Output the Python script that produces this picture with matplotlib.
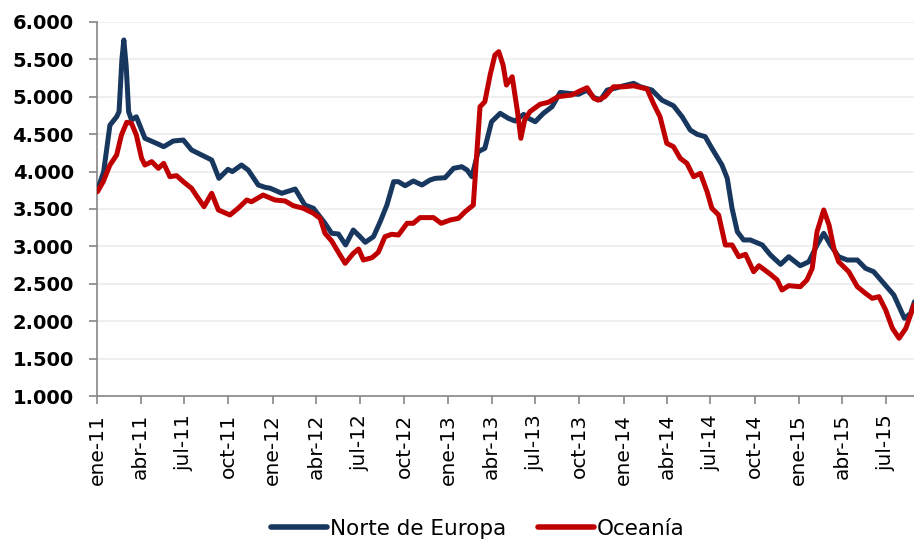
import matplotlib
matplotlib.use("Agg")
import matplotlib.pyplot as plt
import matplotlib.dates as mdates
import pandas as pd

# ---------------- data ----------------
norte_dates = [
    "2011-01-01", "2011-01-14", "2011-01-27", "2011-02-10", "2011-02-15", "2011-02-21",
    "2011-02-25", "2011-03-02", "2011-03-07", "2011-03-13", "2011-03-23", "2011-04-10",
    "2011-05-04", "2011-05-19", "2011-06-08", "2011-06-29", "2011-07-16", "2011-08-06",
    "2011-08-27", "2011-09-11", "2011-09-30", "2011-10-09", "2011-10-28", "2011-11-11",
    "2011-12-02", "2011-12-16", "2011-12-27", "2012-01-20", "2012-02-17", "2012-03-08",
    "2012-03-26", "2012-04-19", "2012-05-03", "2012-05-17", "2012-06-01", "2012-06-17",
    "2012-07-01", "2012-07-12", "2012-07-29", "2012-08-12", "2012-08-26", "2012-09-09",
    "2012-09-19", "2012-10-03", "2012-10-20", "2012-11-07", "2012-11-24", "2012-12-05",
    "2012-12-25", "2013-01-12", "2013-01-29", "2013-02-09", "2013-02-19", "2013-03-04",
    "2013-03-18", "2013-04-01", "2013-04-19", "2013-05-06", "2013-05-20", "2013-06-07",
    "2013-06-17", "2013-07-01", "2013-07-18", "2013-08-05", "2013-08-22", "2013-09-08",
    "2013-09-29", "2013-10-17", "2013-10-31", "2013-11-14", "2013-11-28", "2013-12-18",
    "2014-01-01", "2014-01-22", "2014-02-05", "2014-03-01", "2014-03-22", "2014-04-15",
    "2014-05-03", "2014-05-20", "2014-06-03", "2014-06-20", "2014-07-04", "2014-07-25",
    "2014-08-05", "2014-08-15", "2014-08-26", "2014-09-08", "2014-09-22", "2014-10-17",
    "2014-11-03", "2014-11-24", "2014-12-11", "2015-01-04", "2015-01-22", "2015-02-08",
    "2015-02-22", "2015-03-08", "2015-03-25", "2015-04-12", "2015-05-03", "2015-05-20",
    "2015-06-06", "2015-06-27", "2015-07-18", "2015-08-09", "2015-08-22", "2015-08-30",
]
norte_values = [
    3750, 4000, 4620, 4733, 4800, 5500,
    5760, 5400, 4800, 4690, 4733, 4445,
    4378, 4333, 4409, 4422, 4289, 4222,
    4155, 3910, 4030, 4000, 4088, 4021,
    3821, 3790, 3777, 3710, 3767, 3553,
    3509, 3309, 3175, 3166, 3019, 3219,
    3130, 3055, 3130, 3330, 3553, 3865,
    3865, 3811, 3874, 3821, 3888, 3910,
    3918, 4044, 4065, 4021, 3932, 4266,
    4311, 4667, 4779, 4712, 4676, 4765,
    4712, 4667, 4779, 4867, 5059, 5046,
    5033, 5090, 4990, 4960, 5090, 5121,
    5147, 5180, 5134, 5090, 4955, 4880,
    4733, 4555, 4499, 4467, 4311, 4088,
    3910, 3509, 3196, 3086, 3086, 3019,
    2885, 2760, 2862, 2742, 2795, 3019,
    3175, 3019, 2862, 2818, 2818, 2707,
    2662, 2506, 2350, 2038, 2105, 2261,
]

oceania_dates = [
    "2011-01-01", "2011-01-13", "2011-01-27", "2011-02-10", "2011-02-20", "2011-03-03",
    "2011-03-13", "2011-03-23", "2011-04-03", "2011-04-10", "2011-04-24", "2011-05-08",
    "2011-05-19", "2011-06-01", "2011-06-15", "2011-06-29", "2011-07-16", "2011-07-30",
    "2011-08-11", "2011-08-27", "2011-09-10", "2011-10-04", "2011-10-21", "2011-11-08",
    "2011-11-18", "2011-12-12", "2012-01-06", "2012-01-27", "2012-02-13", "2012-03-05",
    "2012-03-26", "2012-04-09", "2012-04-19", "2012-05-03", "2012-05-17", "2012-05-31",
    "2012-06-17", "2012-06-28", "2012-07-08", "2012-07-26", "2012-08-08", "2012-08-22",
    "2012-09-05", "2012-09-19", "2012-10-07", "2012-10-20", "2012-11-03", "2012-12-01",
    "2012-12-17", "2013-01-05", "2013-01-22", "2013-02-05", "2013-02-22", "2013-03-01",
    "2013-03-08", "2013-03-18", "2013-03-29", "2013-04-08", "2013-04-16", "2013-04-25",
    "2013-05-02", "2013-05-14", "2013-05-25", "2013-06-01", "2013-06-09", "2013-06-20",
    "2013-07-11", "2013-07-28", "2013-08-18", "2013-09-15", "2013-10-02", "2013-10-17",
    "2013-10-31", "2013-11-09", "2013-11-23", "2013-12-11", "2014-01-01", "2014-01-22",
    "2014-02-19", "2014-03-04", "2014-03-18", "2014-04-01", "2014-04-15", "2014-04-29",
    "2014-05-13", "2014-05-27", "2014-06-10", "2014-06-24", "2014-07-04", "2014-07-18",
    "2014-08-01", "2014-08-15", "2014-08-29", "2014-09-12", "2014-09-29", "2014-10-10",
    "2014-11-03", "2014-11-17", "2014-11-27", "2014-12-11", "2015-01-04", "2015-01-18",
    "2015-01-29", "2015-02-08", "2015-02-22", "2015-03-05", "2015-03-15", "2015-03-25",
    "2015-04-15", "2015-05-03", "2015-05-20", "2015-06-03", "2015-06-17", "2015-07-01",
    "2015-07-15", "2015-07-29", "2015-08-12", "2015-08-29",
]
oceania_values = [
    3731, 3865, 4088, 4222, 4489, 4659,
    4645, 4489, 4178, 4088, 4133, 4044,
    4110, 3932, 3945, 3865, 3777, 3643,
    3531, 3710, 3487, 3420, 3509, 3620,
    3597, 3687, 3620, 3607, 3544, 3509,
    3442, 3375, 3175, 3072, 2921, 2774,
    2907, 2965, 2818, 2849, 2921, 3130,
    3162, 3152, 3309, 3309, 3385, 3385,
    3309, 3353, 3375, 3464, 3553, 4222,
    4867, 4934, 5291, 5559, 5603, 5425,
    5157, 5268, 4802, 4445, 4690, 4802,
    4900, 4926, 5002, 5024, 5078, 5121,
    4980, 4955, 5002, 5134, 5134, 5147,
    5104, 4913, 4733, 4378, 4333, 4178,
    4110, 3932, 3977, 3731, 3509, 3420,
    3019, 3019, 2862, 2894, 2662, 2742,
    2627, 2551, 2417, 2475, 2461, 2551,
    2707, 3196, 3487, 3286, 2975, 2795,
    2662, 2461, 2372, 2306, 2328, 2150,
    1905, 1772, 1905, 2216,
]

tick_dates = [
    "2011-01-01", "2011-04-01", "2011-07-01", "2011-10-01",
    "2012-01-01", "2012-04-01", "2012-07-01", "2012-10-01",
    "2013-01-01", "2013-04-01", "2013-07-01", "2013-10-01",
    "2014-01-01", "2014-04-01", "2014-07-01", "2014-10-01",
    "2015-01-01", "2015-04-01", "2015-07-01",
]
tick_labels = [
    "ene-11", "abr-11", "jul-11", "oct-11",
    "ene-12", "abr-12", "jul-12", "oct-12",
    "ene-13", "abr-13", "jul-13", "oct-13",
    "ene-14", "abr-14", "jul-14", "oct-14",
    "ene-15", "abr-15", "jul-15",
]
y_ticks = [1000, 1500, 2000, 2500, 3000, 3500, 4000, 4500, 5000, 5500, 6000]
series_names = ["Norte de Europa", "Oceanía"]
series_colors = ["#17375E", "#C00000"]

# ---------------- figure ----------------
plt.rcParams['font.family'] = ['DejaVu Sans']
fig = plt.figure(figsize=(9.14, 5.39), dpi=100)
ax = fig.add_axes([0.1066, 0.2653, 0.8934, 0.6939])

nd = pd.to_datetime(norte_dates)
od = pd.to_datetime(oceania_dates)
ax.plot(nd, norte_values, color=series_colors[0], lw=3.6, label=series_names[0],
        solid_joinstyle="round", solid_capstyle="round", zorder=3)
ax.plot(od, oceania_values, color=series_colors[1], lw=3.6, label=series_names[1],
        solid_joinstyle="round", solid_capstyle="round", zorder=4)

ax.set_ylim(1000, 6000)
ax.set_xlim(pd.Timestamp("2011-01-01"), pd.Timestamp("2015-08-29"))
ax.set_yticks(y_ticks)
ax.set_yticklabels([f"{v:,}".replace(",", ".") for v in y_ticks],
                   fontsize=14, fontweight="bold")
ax.set_xticks(pd.to_datetime(tick_dates))
ax.set_xticklabels(tick_labels, rotation=90, fontsize=14.5)

ax.grid(axis="y", color="#EBEBEB", lw=1.1, zorder=0)
ax.set_axisbelow(True)
for s in ["top", "right"]:
    ax.spines[s].set_visible(False)
for s in ["left", "bottom"]:
    ax.spines[s].set_color("#868686")
    ax.spines[s].set_linewidth(1.2)
ax.tick_params(axis="both", direction="out", length=6, width=1.2, color="#868686")
ax.tick_params(axis="y", pad=11)
ax.tick_params(axis="x", pad=7)

leg = fig.legend(loc="center", bbox_to_anchor=(478 / 914, 1 - 529 / 539), ncol=2,
                 frameon=False, fontsize=15.5, handlelength=2.6, handletextpad=0.15,
                 columnspacing=1.45, borderaxespad=0)
for h in leg.get_lines():
    h.set_linewidth(4.0)
    h.set_solid_capstyle("round")

fig.savefig("out.png", dpi=100, facecolor="white")
